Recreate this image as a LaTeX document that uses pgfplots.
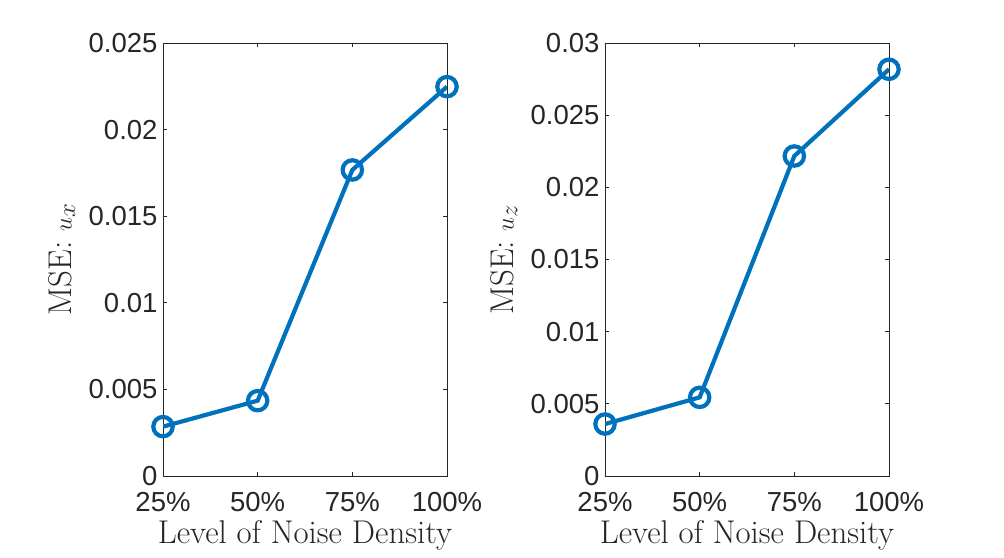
\documentclass[border=0pt]{standalone}
\usepackage{pgfplots}
\pgfplotsset{compat=1.18}
\usepackage{fontspec}
\newfontfamily\arial{Liberation Sans}
\definecolor{mblue}{RGB}{0,114,189}
\definecolor{axgray}{RGB}{38,38,38}
\begin{document}
\begin{tikzpicture}
\useasboundingbox[fill=white] (0bp,0bp) rectangle (1004bp,558bp);
\pgfplotsset{
  myax/.style={
    scale only axis, width=284bp, height=433bp,
    anchor=south west,
    xmin=0, xmax=3, xtick={0,1,2,3},
    xticklabels={25\%,50\%,75\%,100\%},
    scaled y ticks=false,
    tick align=inside, tick pos=both,
    major tick length=4bp,
    axis line style={axgray, line width=0.8bp},
    every tick/.style={axgray, line width=0.8bp},
    tick label style={font=\fontsize{27.6}{27.6}\arial, text=axgray},
    /pgf/number format/assume math mode=true,
    yticklabel style={xshift=-2bp},
    xticklabel style={yshift=-13bp},
    xlabel style={at={(axis description cs:0.5,-0.155)}, anchor=base, font=\fontsize{33}{33}\selectfont, text=axgray},
    ylabel style={at={(axis description cs:-0.356,0.5)}, rotate=0, anchor=center, font=\fontsize{33}{33}\selectfont, text=axgray},
    xlabel={Level of Noise Density},
  },
  myplot/.style={mblue, line width=4.2bp, mark=o, mark size=9.7bp, mark options={line width=4.2bp, fill=none, draw=mblue}},
}
\begin{axis}[myax, at={(163bp,82bp)},
  ymin=0, ymax=0.025,
  ytick={0,0.005,0.01,0.015,0.02,0.025},
  yticklabels={0,0.005,0.01,0.015,0.02,0.025},
  ylabel={MSE: $u_x$}]
\addplot[myplot] coordinates {(0,0.00285) (1,0.00435) (2,0.01767) (3,0.02248)};
\end{axis}
\begin{axis}[myax, at={(605bp,82bp)},
  ymin=0, ymax=0.03,
  ytick={0,0.005,0.01,0.015,0.02,0.025,0.03},
  yticklabels={0,0.005,0.01,0.015,0.02,0.025,0.03},
  ylabel={MSE: $u_z$}]
\addplot[myplot] coordinates {(0,0.0036) (1,0.00545) (2,0.02217) (3,0.02818)};
\end{axis}
\end{tikzpicture}
\end{document}
